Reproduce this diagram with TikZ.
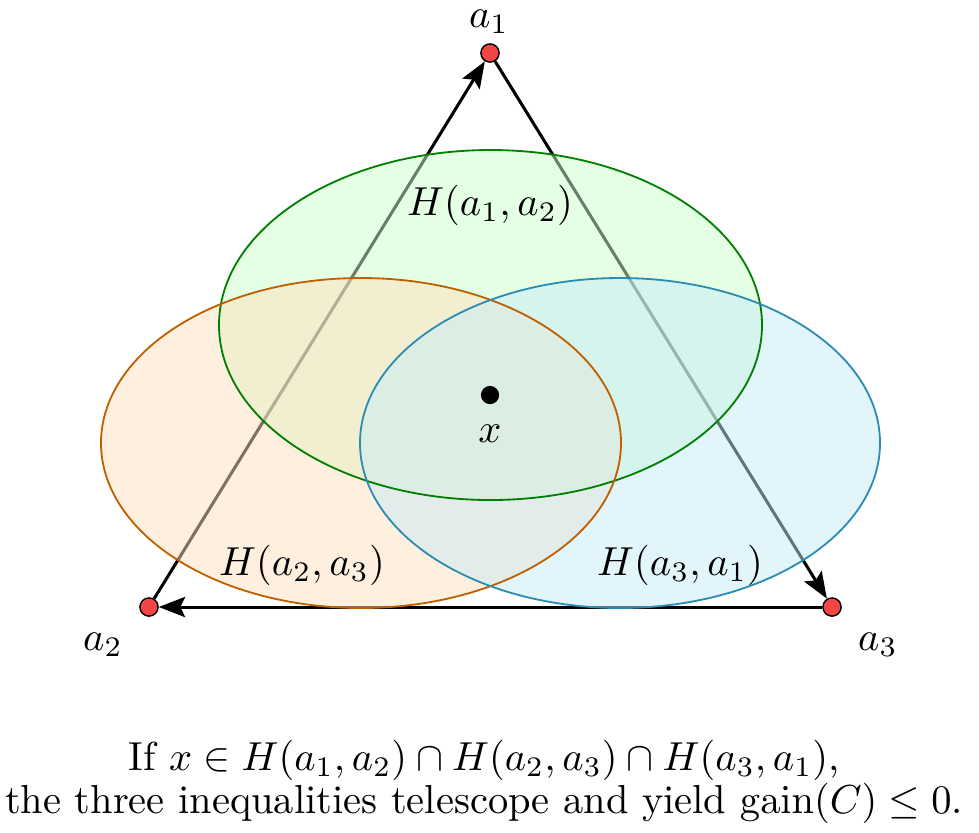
\documentclass[tikz,border=0pt]{standalone}
\usepackage{tikz}
\usetikzlibrary{positioning,arrows.meta}
\definecolor{vtxred}{HTML}{F24545}
\definecolor{hgreen}{HTML}{008000}
\definecolor{horange}{HTML}{BF6000}
\definecolor{hblue}{HTML}{2C8CB2}
\definecolor{hgreenfill}{HTML}{CCFFCC}
\definecolor{horangefill}{HTML}{FFE0BE}
\definecolor{hbluefill}{HTML}{C6EBF8}
\pgfdeclarelayer{edges}
\pgfdeclarelayer{regions}
\pgfsetlayers{edges,regions,main}

\begin{document}
\begin{tikzpicture}[x=0.00868cm,y=-0.00868cm,
    vtx/.style={circle,draw=black,line width=0.35pt,fill=vtxred,minimum size=4.5pt,inner sep=0pt},
    tri/.style={line width=0.75pt,-{Stealth[length=6.5pt,width=5pt,inset=1.2pt]}},
    region/.style={fill opacity=0.5},
    rim/.style={line width=0.45pt}]
  \useasboundingbox (0,0) rectangle (979,832);

  % vertices of the cycle C
  \node[vtx] (a1) at (490,53) {};
  \node[vtx] (a2) at (149,607) {};
  \node[vtx] (a3) at (832,607) {};
  \node[anchor=base] (la1) at (489,27) {$a_1$};
  \node[anchor=base] (la2) at (103,650) {$a_2$};
  \node[anchor=base] (la3) at (878,650) {$a_3$};

  \begin{pgfonlayer}{edges}
    \draw[tri] (a2) -- (a1);
    \draw[tri] (a1) -- (a3);
    \draw[tri] (a3) -- (a2);
  \end{pgfonlayer}

  % the three half-spaces: fills first, rims on top
  \begin{pgfonlayer}{regions}
    \foreach \cx/\cy/\rx/\ry/\col in {490.5/325/271.5/175/hgreen, 361/443/260/165/horange, 620/443/260/165/hblue}
      \fill[region,fill=\col fill] (\cx,\cy) ellipse [x radius=\rx,y radius=\ry];
    \foreach \cx/\cy/\rx/\ry/\col in {490.5/325/271.5/175/hgreen, 361/443/260/165/horange, 620/443/260/165/hblue}
      \draw[rim,draw=\col] (\cx,\cy) ellipse [x radius=\rx,y radius=\ry];
  \end{pgfonlayer}

  \node[anchor=base] (h12) at (490,215) {$H(a_1,a_2)$};
  \node[anchor=base] (h23) at (302,575) {$H(a_2,a_3)$};
  \node[anchor=base] (h31) at (680,575) {$H(a_3,a_1)$};

  \node[circle,fill=black,minimum size=4.5pt,inner sep=0pt] (x) at (490,395) {};
  \node[anchor=base] (lx) at (490,442) {$x$};

  \node[align=center,font=\fontsize{10}{10.6}\selectfont] (cap) at (484,782)
    {If $x\in H(a_1,a_2)\cap H(a_2,a_3)\cap H(a_3,a_1)$,\\
     the three inequalities telescope and yield $\mathrm{gain}(C)\le 0$.};
\end{tikzpicture}
\end{document}
